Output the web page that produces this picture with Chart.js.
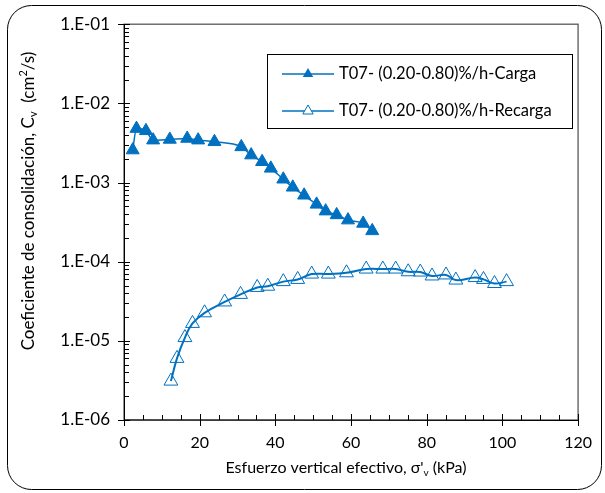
<!DOCTYPE html>
<html lang="es">
<head>
<meta charset="UTF-8">
<title>Coeficiente de consolidación</title>
<script src="https://cdn.jsdelivr.net/npm/chart.js@4"></script>
<style>
  html, body { margin: 0; padding: 0; background: #fff; }
  canvas { display: block; }
</style>
</head>
<body>
<canvas id="cv" width="605" height="493"></canvas>
<script>
// valores
const cargaX  = [2.3, 3.3, 5.8, 7.7, 12.1, 16.7, 19.6, 23.9, 31.0, 33.6, 36.5, 38.8, 42.1, 44.6, 47.6, 50.9, 53.3, 56.2, 59.2, 63.2, 65.6];
const cargaCv = [2.57e-3, 4.8e-3, 4.5e-3, 3.43e-3, 3.5e-3, 3.6e-3, 3.43e-3, 3.27e-3, 2.82e-3, 2.22e-3, 1.83e-3, 1.51e-3, 1.1e-3, 8.7e-4, 6.9e-4, 5.3e-4, 4.35e-4, 3.9e-4, 3.35e-4, 3.04e-4, 2.45e-4];

const recargaX  = [12.4, 14.0, 16.1, 18.1, 21.3, 26.6, 30.8, 35.2, 38.0, 42.1, 45.9, 49.6, 54.0, 58.8, 64.0, 68.4, 71.8, 75.1, 78.3, 81.4, 85.1, 87.7, 92.8, 95.0, 97.9, 101.1];
const recargaCv = [3.1e-6, 6.0e-6, 1.1e-5, 1.66e-5, 2.26e-5, 3.1e-5, 3.86e-5, 4.73e-5, 4.9e-5, 5.6e-5, 5.97e-5, 6.97e-5, 6.97e-5, 7.24e-5, 8.07e-5, 8.07e-5, 8.07e-5, 7.46e-5, 7.4e-5, 6.6e-5, 6.8e-5, 5.86e-5, 6.3e-5, 5.97e-5, 5.3e-5, 5.6e-5];

const xTicks = [0, 20, 40, 60, 80, 100, 120];
const yTicks = [1e-6, 1e-5, 1e-4, 1e-3, 1e-2, 1e-1];
const yTickLabels = ['1.E-06', '1.E-05', '1.E-04', '1.E-03', '1.E-02', '1.E-01'];

const seriesNames = ['T07- (0.20-0.80)%/h-Carga', 'T07- (0.20-0.80)%/h-Recarga'];

const BLUE = '#0070C0';
const FONT = 'Lato, "Open Sans", sans-serif';

function pts(xs, ys) {
    return xs.map((x, i) => ({ x: x, y: ys[i] }));
}

// marco exterior, ejes, marcas menores, títulos y leyenda
const decor = {
    id: 'decor',
    beforeDraw(chart) {
        const c = chart.ctx;
        c.save();
        c.strokeStyle = '#000';
        c.lineWidth = 1;
        c.beginPath();
        c.roundRect(7.5, 5.5, 594, 484, 24);
        c.stroke();
        c.restore();
    },
    beforeDatasetsDraw(chart) {
        const c = chart.ctx;
        const a = chart.chartArea;
        const xs = chart.scales.x, ys = chart.scales.y;
        c.save();
        c.strokeStyle = '#595959';
        c.lineWidth = 1.3;
        c.strokeRect(a.left, a.top, a.right - a.left, a.bottom - a.top);

        c.strokeStyle = '#000';
        c.lineWidth = 1;
        c.beginPath();
        c.moveTo(a.left + 0.5, a.top);
        c.lineTo(a.left + 0.5, a.bottom);
        c.lineTo(a.right, a.bottom + 0.5);
        // y: décadas y marcas menores
        yTicks.forEach(v => {
            const py = Math.round(ys.getPixelForValue(v)) + 0.5;
            c.moveTo(a.left - 6, py);
            c.lineTo(a.left + 6, py);
        });
        for (let d = 0; d < yTicks.length - 1; d++) {
            for (let k = 2; k <= 9; k++) {
                const py = Math.round(ys.getPixelForValue(k * yTicks[d])) + 0.5;
                c.moveTo(a.left, py);
                c.lineTo(a.left + 5, py);
            }
        }
        // x: mayores cada 20, menores cada 5
        xTicks.forEach(v => {
            const px = Math.round(xs.getPixelForValue(v)) + 0.5;
            c.moveTo(px, a.bottom - 6);
            c.lineTo(px, a.bottom + 6);
        });
        for (let v = 5; v < 120; v += 5) {
            if (v % 20 === 0) continue;
            const px = Math.round(xs.getPixelForValue(v)) + 0.5;
            c.moveTo(px, a.bottom);
            c.lineTo(px, a.bottom - 5);
        }
        c.stroke();
        c.restore();
    },
    afterDatasetsDraw(chart) {
        const c = chart.ctx;
        c.save();
        c.fillStyle = '#000';
        c.textBaseline = 'middle';

        // títulos con subíndice / superíndice
        const parts = (list, size) => list.map(p => {
            c.font = (p[1] ? Math.round(size * 0.65) : size) + 'px ' + FONT;
            return { t: p[0], mode: p[1], w: c.measureText(p[0]).width };
        });
        const drawRun = (items, x0, y0, size) => {
            let x = x0;
            items.forEach(it => {
                const s = it.mode ? Math.round(size * 0.65) : size;
                c.font = s + 'px ' + FONT;
                const dy = it.mode === 'sub' ? size * 0.28 : it.mode === 'sup' ? -size * 0.32 : 0;
                c.fillText(it.t, x, y0 + dy);
                x += it.w;
            });
        };
        c.textAlign = 'left';
        const xt = parts([['Esfuerzo vertical efectivo, \u03C3\'', null], ['v', 'sub'], [' (kPa)', null]], 16);
        const xw = xt.reduce((s, it) => s + it.w, 0);
        drawRun(xt, 346 - xw / 2, 468, 16);

        const yt = parts([['Coeficiente de consolidación, C', null], ['v', 'sub'], ['  (cm', null], ['2', 'sup'], ['/s)', null]], 17);
        const yw = yt.reduce((s, it) => s + it.w, 0);
        c.translate(29, 201);
        c.rotate(-Math.PI / 2);
        drawRun(yt, -yw / 2, 0, 17);
        c.restore();

        // leyenda
        c.save();
        c.fillStyle = '#fff';
        c.fillRect(267, 54, 305, 74);
        c.strokeStyle = '#000';
        c.lineWidth = 1;
        c.strokeRect(267.5, 54.5, 305, 74);
        const rows = [74, 111];
        rows.forEach((ry, i) => {
            c.strokeStyle = BLUE;
            c.lineWidth = 1.5;
            c.beginPath();
            c.moveTo(282, ry);
            c.lineTo(334, ry);
            c.stroke();
            const r = 6;
            c.beginPath();
            c.moveTo(308, ry - r);
            c.lineTo(308 + r * 0.866, ry + r / 2);
            c.lineTo(308 - r * 0.866, ry + r / 2);
            c.closePath();
            if (i === 0) {
                c.fillStyle = BLUE;
                c.fill();
            } else {
                c.fillStyle = '#fff';
                c.fill();
                c.lineWidth = 1;
                c.stroke();
            }
            c.fillStyle = '#000';
            c.font = '16.5px ' + FONT;
            c.textAlign = 'left';
            c.textBaseline = 'middle';
            c.fillText(seriesNames[i], 339, ry);
        });
        c.restore();
    }
};

new Chart(document.getElementById('cv'), {
    type: 'line',
    data: {
        datasets: [
            {
                label: seriesNames[0],
                data: pts(cargaX, cargaCv),
                borderColor: BLUE,
                backgroundColor: BLUE,
                borderWidth: 1.5,
                pointStyle: 'triangle',
                pointRadius: 7.5,
                pointBorderWidth: 1,
                pointBackgroundColor: BLUE,
                pointBorderColor: BLUE,
                tension: 0.4,
                cubicInterpolationMode: 'monotone'
            },
            {
                label: seriesNames[1],
                data: pts(recargaX, recargaCv),
                borderColor: BLUE,
                backgroundColor: '#fff',
                borderWidth: 2,
                pointStyle: 'triangle',
                pointRadius: 8,
                pointBorderWidth: 1,
                pointBackgroundColor: 'rgba(255,255,255,0)',
                pointBorderColor: BLUE,
                tension: 0.4
            }
        ]
    },
    options: {
        responsive: false,
        animation: false,
        devicePixelRatio: 1,
        layout: { padding: { left: 0, top: 24, right: 25, bottom: 0 } },
        plugins: {
            legend: { display: false },
            tooltip: { enabled: false }
        },
        scales: {
            x: {
                type: 'linear',
                min: 0,
                max: 120,
                afterFit: s => { s.height = 73; },
                afterBuildTicks: s => { s.ticks = xTicks.map(v => ({ value: v })); },
                grid: { display: false, drawTicks: false },
                border: { display: false },
                ticks: { color: '#000', padding: 13, font: { family: FONT, size: 16 }, maxRotation: 0 }
            },
            y: {
                type: 'logarithmic',
                min: 1e-6,
                max: 1e-1,
                afterFit: s => { s.width = 124; },
                afterBuildTicks: s => { s.ticks = yTicks.map(v => ({ value: v })); },
                grid: { display: false, drawTicks: false },
                border: { display: false },
                ticks: {
                    color: '#000',
                    padding: 14,
                    font: { family: FONT, size: 17 },
                    callback: (v) => yTickLabels[yTicks.findIndex(t => Math.abs(Math.log10(t) - Math.log10(v)) < 1e-6)]
                }
            }
        }
    },
    plugins: [decor]
});
</script>
</body>
</html>
